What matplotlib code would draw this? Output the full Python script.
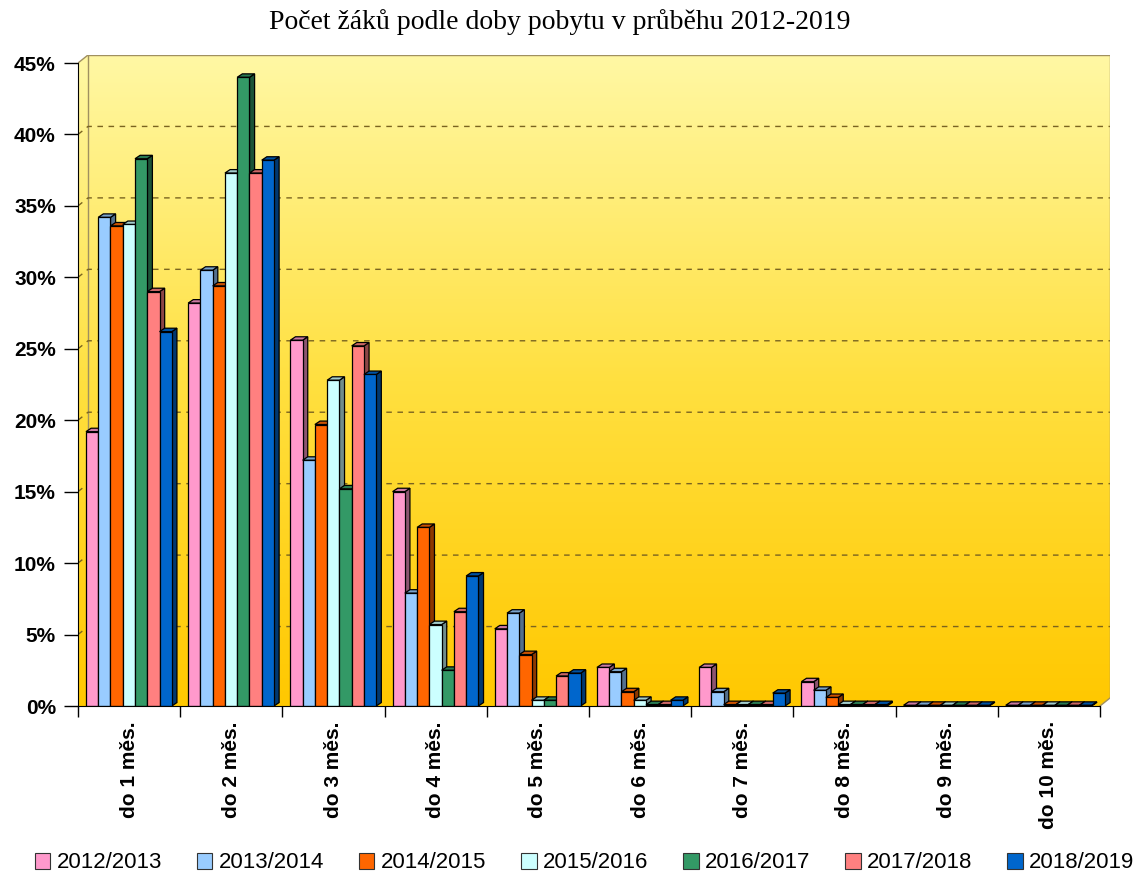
import numpy as np
import matplotlib
matplotlib.use("Agg")
import matplotlib.pyplot as plt
from matplotlib.patches import Polygon, Patch
from matplotlib.colors import to_rgb, LinearSegmentedColormap

# ── data ─────────────────────────────────────────────────────────────────────
categories = ["do 1 měs.", "do 2 měs.", "do 3 měs.", "do 4 měs.", "do 5 měs.",
              "do 6 měs.", "do 7 měs.", "do 8 měs.", "do 9 měs.", "do 10 měs."]
years = ["2012/2013", "2013/2014", "2014/2015", "2015/2016",
         "2016/2017", "2017/2018", "2018/2019"]

s_2012 = [19.2, 28.2, 25.6, 15.0, 5.4, 2.7, 2.7, 1.7, 0.05, 0.05]
s_2013 = [34.2, 30.5, 17.2, 7.9, 6.5, 2.4, 1.0, 1.1, 0.05, 0.05]
s_2014 = [33.6, 29.4, 19.7, 12.5, 3.6, 1.0, 0.1, 0.6, 0.05, 0.05]
s_2015 = [33.7, 37.3, 22.8, 5.7, 0.4, 0.4, 0.1, 0.1, 0.05, 0.05]
s_2016 = [38.3, 44.0, 15.2, 2.5, 0.4, 0.1, 0.1, 0.1, 0.05, 0.05]
s_2017 = [29.0, 37.3, 25.2, 6.6, 2.1, 0.1, 0.1, 0.1, 0.05, 0.05]
s_2018 = [26.2, 38.2, 23.2, 9.1, 2.3, 0.4, 0.9, 0.1, 0.05, 0.05]
series = [s_2012, s_2013, s_2014, s_2015, s_2016, s_2017, s_2018]

colors = ["#FF99CC", "#99CCFF", "#FF6600", "#CCFFFF",
          "#339966", "#FF8080", "#0066CC"]

yticks = [0, 5, 10, 15, 20, 25, 30, 35, 40, 45]

# ── geometry of the fake 3D look ─────────────────────────────────────────────
W = 0.12          # bar width (group units)
OFF = 0.078       # first bar offset from group edge
DX, DY = 0.05, 0.24    # bar depth
WX, WY = 0.098, 0.56   # wall depth

def shade(c, f):
    r, g, b = to_rgb(c)
    return (r * f, g * f, b * f)

fig = plt.figure(figsize=(11.42, 8.77), dpi=100)
ax = fig.add_axes([78 / 1142, 1 - 706 / 877, (1110 - 78) / 1142, (706 - 55) / 877])
ax.set_xlim(-0.5, 9.5 + WX)
ax.set_ylim(0, 45 + WY)

# background walls with gradient
grad = LinearSegmentedColormap.from_list("wall", ["#FFC800", "#FFE040", "#FFF8A4"])
img = ax.imshow(np.linspace(0, 1, 256).reshape(-1, 1), cmap=grad, aspect="auto",
                origin="lower", extent=[-0.5, 9.5 + WX, 0, 45 + WY], zorder=0)
clip = Polygon([(-0.5, 0), (-0.5, 45), (-0.5 + WX, 45 + WY), (9.5 + WX, 45 + WY),
                (9.5 + WX, WY), (9.5, 0)], closed=True, transform=ax.transData,
               facecolor="none", edgecolor="none")
ax.add_patch(clip)
img.set_clip_path(clip)

# wall outline
ax.plot([-0.5 + WX, 9.5 + WX, 9.5 + WX], [45 + WY, 45 + WY, WY], color="#A09060", lw=1, zorder=1)
ax.plot([-0.5 + WX, -0.5 + WX], [WY, 45 + WY], color="#A09060", lw=1, zorder=1)
ax.plot([-0.5, -0.5 + WX], [45, 45 + WY], color="#A09060", lw=1, zorder=1)
ax.plot([9.5, 9.5 + WX], [0, WY], color="#A09060", lw=1, zorder=1)

# dashed gridlines on the back wall
for v in yticks[1:-1]:
    ax.plot([-0.5, -0.5 + WX, 9.5 + WX], [v, v + WY, v + WY],
            color="#7A6420", lw=1, ls=(0, (4, 4)), zorder=1)

# bars
z = 2.0
for gi in range(len(categories)):
    for si, (vals, c) in enumerate(zip(series, colors)):
        v = vals[gi]
        x = gi - 0.5 + OFF + si * W
        ax.bar(x, v, width=W, align="edge", color=c, edgecolor="black",
               lw=0.9, zorder=z)
        side = Polygon([(x + W, 0), (x + W + DX, DY), (x + W + DX, v + DY), (x + W, v)],
                       closed=True, facecolor=shade(c, 0.55), edgecolor="black",
                       lw=0.9, zorder=z - 0.001)
        top = Polygon([(x, v), (x + DX, v + DY), (x + W + DX, v + DY), (x + W, v)],
                      closed=True, facecolor=shade(c, 0.8), edgecolor="black",
                      lw=0.9, zorder=z - 0.001)
        ax.add_patch(side)
        ax.add_patch(top)
        z += 0.01

# axes, ticks, labels
for s in ["top", "right"]:
    ax.spines[s].set_visible(False)
ax.spines["left"].set_bounds(0, 45)
ax.spines["bottom"].set_bounds(-0.5, 9.5)
ax.spines["left"].set_zorder(10)
ax.spines["bottom"].set_zorder(10)

ax.set_yticks(yticks)
ax.set_yticklabels([f"{v}%" for v in yticks], fontsize=15, fontweight="bold",
                   family="Liberation Sans")
ax.tick_params(axis="y", length=10, width=1, pad=6)

ax.set_xticks([i - 0.5 for i in range(len(categories) + 1)])
ax.set_xticklabels([])
ax.tick_params(axis="x", which="major", length=8, width=1, direction="out")
ax.set_xticks(range(len(categories)), minor=True)
ax.set_xticklabels(categories, minor=True, rotation=90, fontsize=15,
                   fontweight="bold", family="Liberation Sans")
ax.tick_params(axis="x", which="minor", length=0, pad=11)

fig.text(0.49, 1 - 22 / 877, "Počet žáků podle doby pobytu v průběhu 2012-2019",
         ha="center", va="center", fontsize=20, family="Liberation Serif")

handles = [Patch(facecolor=c, edgecolor="#333333", lw=0.8) for c in colors]
fig.legend(handles, years, ncol=7, loc="center", bbox_to_anchor=(0.512, 1 - 863 / 877),
           frameon=False, handlelength=0.7, handleheight=0.7, handletextpad=0.3,
           columnspacing=1.55, borderaxespad=0,
           prop={"family": "Liberation Sans", "size": 16})

fig.savefig("out.png", dpi=100)
